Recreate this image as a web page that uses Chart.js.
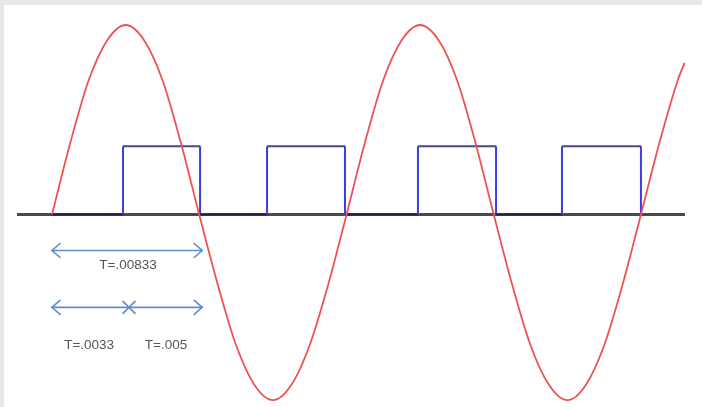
<!DOCTYPE html>
<html>
<head>
<meta charset="utf-8">
<script src="https://cdn.jsdelivr.net/npm/chart.js@4"></script>
<style>
    html, body { margin: 0; padding: 0; background: #e6e7e9; }
    #wrap { position: absolute; left: 4px; top: 5px; width: 698px; height: 402px; background: #fff; }
</style>
</head>
<body>
<div id="wrap"><canvas id="wave-chart" width="698" height="402"></canvas></div>
<script>
// time in ms, amplitude normalised to the sine peak
const sineTimes = [0, 1.04, 2.08, 3.13, 4.17, 5.21, 6.25, 7.29, 8.33, 9.38, 10.42, 11.46, 12.5, 13.54, 14.58, 15.63,
    16.67, 17.71, 18.75, 19.79, 20.83, 21.88, 22.92, 23.96, 25, 26.04, 27.08, 28.13, 29.17, 30.21, 31.25, 32.29,
    33.33, 34.38, 35.42, 35.8];
const sineValues = [0, 0.38, 0.71, 0.92, 1, 0.92, 0.71, 0.38, 0, -0.37, -0.69, -0.9, -0.98, -0.9, -0.69, -0.37,
    0, 0.38, 0.71, 0.92, 1, 0.92, 0.71, 0.38, 0, -0.37, -0.69, -0.9, -0.98, -0.9, -0.69, -0.37,
    0, 0.38, 0.71, 0.8];

const pulseTimes = [0, 4.02, 4.02, 8.38, 8.38, 12.17, 12.17, 16.58, 16.58, 20.71, 20.71, 25.13, 25.13, 28.86, 28.86, 33.33, 33.33];
const pulseValues = [0, 0, 0.36, 0.36, 0, 0, 0.36, 0.36, 0, 0, 0.36, 0.36, 0, 0, 0.36, 0.36, 0];

const axisTimes = [-1.98, 35.82];
const axisValues = [0, 0];

// dimension arrows and labels
const arrowStart = [0, 0];
const arrowEnd = [8.5, 8.5];
const arrowLevel = [-0.19, -0.49];
const arrowSplit = 4.36;
const labelTexts = ["T=.00833", "T=.0033", "T=.005"];
const labelTimes = [4.3, 2.1, 6.45];
const labelLevels = [-0.27, -0.69, -0.69];

const toPoints = (xs, ys) => xs.map((x, i) => ({ x: x, y: ys[i] }));

const arrowPlugin = {
    id: "arrowPlugin",
    afterDatasetsDraw(chart) {
        const ctx = chart.ctx;
        const xs = chart.scales.x;
        const ys = chart.scales.y;
        ctx.save();
        ctx.strokeStyle = "rgb(95, 140, 205)";
        ctx.lineWidth = 1.6;
        ctx.lineCap = "round";
        const head = (x, y, dir) => {
            ctx.beginPath();
            ctx.moveTo(x + dir * 8, y - 7);
            ctx.lineTo(x, y);
            ctx.lineTo(x + dir * 8, y + 7);
            ctx.stroke();
        };
        arrowStart.forEach((s, i) => {
            const x0 = xs.getPixelForValue(s);
            const x1 = xs.getPixelForValue(arrowEnd[i]);
            const y = ys.getPixelForValue(arrowLevel[i]);
            ctx.beginPath();
            ctx.moveTo(x0, y);
            ctx.lineTo(x1, y);
            ctx.stroke();
            head(x0, y, 1);
            head(x1, y, -1);
        });
        const cx = xs.getPixelForValue(arrowSplit);
        const cy = ys.getPixelForValue(arrowLevel[1]);
        ctx.beginPath();
        ctx.moveTo(cx - 6, cy - 6);
        ctx.lineTo(cx + 6, cy + 6);
        ctx.moveTo(cx - 6, cy + 6);
        ctx.lineTo(cx + 6, cy - 6);
        ctx.stroke();

        ctx.fillStyle = "#555";
        ctx.font = "13.5px 'Liberation Sans', Arial, sans-serif";
        ctx.textAlign = "center";
        ctx.textBaseline = "middle";
        labelTexts.forEach((t, i) => {
            ctx.fillText(t, xs.getPixelForValue(labelTimes[i]), ys.getPixelForValue(labelLevels[i]));
        });
        ctx.restore();
    },
};

const waveCtx = document.querySelector("#wave-chart").getContext("2d");

const waveChart = new Chart(waveCtx, {
    type: "scatter",
    data: {
        datasets: [
            {
                label: "sine",
                data: toPoints(sineTimes, sineValues),
                showLine: true,
                borderColor: "rgb(238, 82, 82)",
                borderWidth: 1.8,
                pointRadius: 0,
                cubicInterpolationMode: "monotone",
                order: 1,
            },
            {
                label: "pulse",
                data: toPoints(pulseTimes, pulseValues),
                showLine: true,
                borderWidth: 2,
                pointRadius: 0,
                borderColor: "rgb(60, 60, 225)",
                segment: {
                    borderColor: (c) => {
                        if (c.p0.parsed.y !== c.p1.parsed.y) return "rgb(60, 60, 225)";
                        return c.p0.parsed.y > 0 ? "rgb(70, 70, 140)" : "rgb(30, 30, 80)";
                    },
                },
                order: 2,
            },
            {
                label: "axis",
                data: toPoints(axisTimes, axisValues),
                showLine: true,
                borderColor: "#4a4a4a",
                borderWidth: 3,
                pointRadius: 0,
                order: 3,
            },
        ],
    },
    options: {
        responsive: false,
        animation: false,
        layout: { padding: 0 },
        scales: {
            x: { type: "linear", min: -2.716, max: 36.785, display: false },
            y: { type: "linear", min: -1.0158, max: 1.1055, display: false },
        },
        plugins: {
            legend: { display: false },
            tooltip: { enabled: false },
        },
    },
    plugins: [arrowPlugin],
});
</script>
</body>
</html>
